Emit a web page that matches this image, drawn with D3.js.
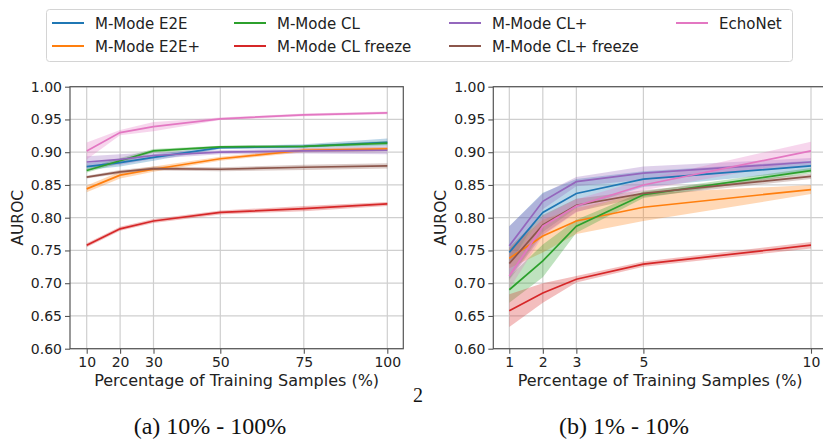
<!DOCTYPE html>
<html>
<head>
<meta charset="utf-8">
<script src="https://cdn.jsdelivr.net/npm/d3@7"></script>
<style>
  body { margin: 0; background: #fff; }
  svg { display: block; }
  text { font-family: "DejaVu Sans", sans-serif; fill: #222; }
  text.serif { font-family: "Liberation Serif", serif; fill: #111; }
</style>
</head>
<body>
<svg id="chart" width="823" height="443"></svg>
<script>
// series in plotting order (legend is filled column by column, 4 columns)
const SERIES = ['M-Mode E2E', 'M-Mode E2E+', 'M-Mode CL', 'M-Mode CL freeze',
                'M-Mode CL+', 'M-Mode CL+ freeze', 'EchoNet'];
const COLORS = ['#1f77b4', '#ff7f0e', '#2ca02c', '#d62728', '#9467bd', '#8c564b', '#e377c2'];

const Y_TICKS = [0.60, 0.65, 0.70, 0.75, 0.80, 0.85, 0.90, 0.95, 1.00];

// (a) 10% - 100%
const X_A = [10, 20, 30, 50, 75, 100];
const MEAN_A = [
  [0.878, 0.884, 0.892, 0.907, 0.909, 0.915],
  [0.844, 0.865, 0.874, 0.890, 0.903, 0.905],
  [0.872, 0.887, 0.902, 0.908, 0.909, 0.914],
  [0.758, 0.783, 0.795, 0.808, 0.814, 0.821],
  [0.885, 0.889, 0.895, 0.900, 0.902, 0.903],
  [0.862, 0.870, 0.875, 0.874, 0.877, 0.879],
  [0.902, 0.930, 0.939, 0.951, 0.957, 0.960],
];
const ERR_A = [
  [0.005, 0.006, 0.005, 0.002, 0.003, 0.006],
  [0.005, 0.005, 0.004, 0.003, 0.003, 0.003],
  [0.003, 0.004, 0.003, 0.002, 0.002, 0.003],
  [0.003, 0.003, 0.003, 0.003, 0.004, 0.003],
  [0.009, 0.008, 0.005, 0.003, 0.004, 0.006],
  [0.002, 0.003, 0.003, 0.003, 0.004, 0.004],
  [0.013, 0.004, 0.007, 0.002, 0.002, 0.002],
];

// (b) 1% - 10%
const X_B = [1, 2, 3, 5, 10];
const MEAN_B = [
  [0.747, 0.808, 0.837, 0.859, 0.879],
  [0.738, 0.772, 0.795, 0.816, 0.843],
  [0.690, 0.734, 0.787, 0.835, 0.872],
  [0.658, 0.685, 0.706, 0.729, 0.758],
  [0.757, 0.825, 0.855, 0.868, 0.885],
  [0.730, 0.789, 0.819, 0.837, 0.863],
  [0.711, 0.787, 0.818, 0.850, 0.902],
];
const ERR_B = [
  [0.040, 0.030, 0.022, 0.012, 0.008],
  [0.015, 0.025, 0.020, 0.021, 0.007],
  [0.020, 0.025, 0.010, 0.005, 0.004],
  [0.025, 0.015, 0.005, 0.004, 0.005],
  [0.030, 0.012, 0.007, 0.010, 0.006],
  [0.025, 0.015, 0.010, 0.005, 0.004],
  [0.020, 0.015, 0.010, 0.008, 0.014],
];

const CAPTIONS = ['(a) 10% - 100%', '(b) 1% - 10%'];

const svg = d3.select('#chart');

function panel(opt) {
  const { xs, mean, err, xRange, frame, ticksX, ylabX } = opt;
  const x = d3.scaleLinear().domain([xs[0], xs[xs.length - 1]]).range(xRange);
  const y = d3.scaleLinear().domain([0.6, 1.0]).range([348.7, 86.7]);
  const [fx0, fx1] = frame;
  const g = svg.append('g');

  // grid
  g.append('g').selectAll('line').data(Y_TICKS).join('line')
    .attr('x1', fx0).attr('x2', fx1)
    .attr('y1', d => y(d)).attr('y2', d => y(d))
    .attr('stroke', '#cfcfcf').attr('stroke-width', 1.2);
  g.append('g').selectAll('line').data(ticksX).join('line')
    .attr('x1', d => x(d)).attr('x2', d => x(d))
    .attr('y1', y(1.0)).attr('y2', y(0.6))
    .attr('stroke', '#cfcfcf').attr('stroke-width', 1.2);

  // bands + lines
  const area = d3.area().x(d => x(d.x)).y0(d => y(d.m - d.e)).y1(d => y(d.m + d.e));
  const line = d3.line().x(d => x(d.x)).y(d => y(d.m));
  SERIES.forEach((name, i) => {
    const pts = xs.map((v, j) => ({ x: v, m: mean[i][j], e: err[i][j] }));
    g.append('path').attr('d', area(pts))
      .attr('fill', COLORS[i]).attr('fill-opacity', 0.3).attr('stroke', 'none');
  });
  SERIES.forEach((name, i) => {
    const pts = xs.map((v, j) => ({ x: v, m: mean[i][j] }));
    g.append('path').attr('d', line(pts))
      .attr('fill', 'none').attr('stroke', COLORS[i]).attr('stroke-width', 1.7);
  });

  // spines
  g.append('rect')
    .attr('x', fx0).attr('y', y(1.0))
    .attr('width', fx1 - fx0).attr('height', y(0.6) - y(1.0))
    .attr('fill', 'none').attr('stroke', '#555').attr('stroke-width', 1.2);

  // axes
  const ax = g.append('g').attr('transform', `translate(${fx0},0)`)
    .call(d3.axisLeft(y).tickValues(Y_TICKS).tickFormat(d3.format('.2f')).tickSize(5).tickPadding(3));
  const bx = g.append('g').attr('transform', `translate(0,${y(0.6)})`)
    .call(d3.axisBottom(x).tickValues(ticksX).tickSize(5).tickPadding(3));
  [ax, bx].forEach(a => {
    a.select('.domain').remove();
    a.selectAll('line').attr('stroke', '#555').attr('stroke-width', 1.1);
    a.selectAll('text').attr('font-size', 14).attr('fill', '#222');
  });

  g.append('text')
    .attr('x', (fx0 + fx1) / 2).attr('y', 386)
    .attr('text-anchor', 'middle').attr('font-size', 16)
    .text('Percentage of Training Samples (%)');
  g.append('text')
    .attr('transform', `translate(${ylabX},${(y(0.6) + y(1.0)) / 2}) rotate(-90)`)
    .attr('text-anchor', 'middle').attr('font-size', 15.5)
    .text('AUROC');
}

panel({ xs: X_A, mean: MEAN_A, err: ERR_A, xRange: [86.7, 387.3],
        frame: [70, 403.3], ticksX: X_A, ylabX: 23 });
panel({ xs: X_B, mean: MEAN_B, err: ERR_B, xRange: [509.3, 811],
        frame: [493.3, 827], ticksX: X_B, ylabX: 446 });

// legend
const leg = svg.append('g');
leg.append('rect')
  .attr('x', 46.5).attr('y', 9.5).attr('width', 746).attr('height', 52).attr('rx', 3)
  .attr('fill', '#fff').attr('stroke', '#d4d4d4').attr('stroke-width', 1);
const colX = [52, 234, 449, 676];
const rowY = [23, 46];
SERIES.forEach((name, i) => {
  const c = Math.floor(i / 2), r = i % 2;
  const lx = colX[c], ly = rowY[r];
  leg.append('line')
    .attr('x1', lx).attr('x2', lx + 32).attr('y1', ly).attr('y2', ly)
    .attr('stroke', COLORS[i]).attr('stroke-width', 2);
  leg.append('text')
    .attr('x', lx + 43).attr('y', ly + 5.5).attr('font-size', 15)
    .text(name);
});

// captions (serif, like the paper)
svg.append('text').attr('class', 'serif').attr('x', 210).attr('y', 434)
  .attr('text-anchor', 'middle').attr('font-size', 24).text(CAPTIONS[0]);
svg.append('text').attr('class', 'serif').attr('x', 624).attr('y', 434)
  .attr('text-anchor', 'middle').attr('font-size', 24).text(CAPTIONS[1]);
// page number peeking out behind the figure
svg.append('text').attr('class', 'serif').attr('x', 413).attr('y', 402)
  .attr('font-size', 20).text('2');
</script>
</body>
</html>
